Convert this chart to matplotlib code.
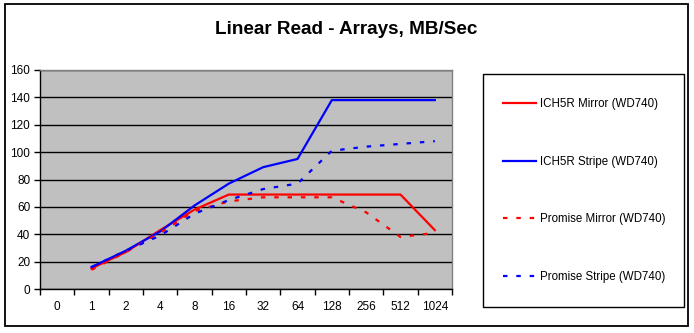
import matplotlib
matplotlib.use("Agg")
import matplotlib.pyplot as plt
from matplotlib.patches import Rectangle
import numpy as np

## data (None = no point at that block size)
categories = ['0', '1', '2', '4', '8', '16', '32', '64', '128', '256', '512', '1024']
ich5r_mirror = [None, 15, 27, 43, 58, 69, 69, 69, 69, 69, 69, 43]
ich5r_stripe = [None, 16, 28, 42, 61, 77, 89, 95, 138, 138, 138, 138]
promise_mirror = [None, 14, 27, 41, 57, 64, 67, 67, 67, 56, 38, 41]
promise_stripe = [None, 16, 28, 39, 55, 65, 73, 77, 101, 104, 106, 108]

series_labels = ['ICH5R Mirror (WD740)', 'ICH5R Stripe (WD740)',
                 'Promise Mirror (WD740)', 'Promise Stripe (WD740)']

plt.rcParams['font.family'] = ['Liberation Sans', 'DejaVu Sans']

W, H = 694, 333
fig = plt.figure(figsize=(W / 100, H / 100), dpi=100)
fig.patch.set_facecolor('white')

# outer chart frame
fig.patches.append(Rectangle((5 / W, 1 - 326 / H), 683 / W, 322 / H, transform=fig.transFigure,
                             fill=False, edgecolor='black', linewidth=1.3))

ax = fig.add_axes([40 / W, 1 - 289 / H, 412 / W, 219 / H])
ax.set_facecolor('#C0C0C0')


def to_arr(vals):
    return np.array([np.nan if v is None else v for v in vals], dtype=float)


x = np.arange(len(categories))
dash = (0, (2, 4))
l1, = ax.plot(x, to_arr(ich5r_mirror), color='#FF0000', lw=1.6)
l2, = ax.plot(x, to_arr(ich5r_stripe), color='#0000FF', lw=1.6)
l3, = ax.plot(x, to_arr(promise_mirror), color='#FF0000', lw=1.6, linestyle=dash)
l4, = ax.plot(x, to_arr(promise_stripe), color='#0000FF', lw=1.6, linestyle=dash)

ax.set_xlim(-0.5, len(categories) - 0.5)
ax.set_ylim(0, 160)
ax.set_yticks(np.arange(0, 161, 20))
ax.set_xticks(x)
ax.set_xticklabels(categories)
ax.set_xticks(np.arange(-0.5, len(categories), 1), minor=True)
ax.tick_params(axis='x', which='major', length=0, pad=9, labelsize=8.5)
ax.tick_params(axis='x', which='minor', length=4, direction='out', width=1)
ax.tick_params(axis='y', length=4, direction='out', width=1, pad=3, labelsize=8.5)
ax.yaxis.grid(True, color='black', linewidth=1)
ax.set_axisbelow(True)

for side in ['left', 'bottom']:
    ax.spines[side].set_color('black')
    ax.spines[side].set_linewidth(1)
for side in ['top', 'right']:
    ax.spines[side].set_color('#808080')
    ax.spines[side].set_linewidth(1)

fig.text(346 / W, 1 - 29 / H, 'Linear Read - Arrays, MB/Sec', ha='center', va='center',
         fontsize=13.6, fontweight='bold')

# legend box
fig.patches.append(Rectangle((483 / W, 1 - 307 / H), 201 / W, 233 / H, transform=fig.transFigure,
                             fill=False, edgecolor='black', linewidth=1))
leg = fig.legend([l1, l2, l3, l4], series_labels, loc='upper left',
                 bbox_to_anchor=(503 / W, 1 - 98 / H), frameon=False, fontsize=8.3,
                 labelspacing=3.95, handlelength=2.9, handletextpad=0.3, borderpad=0,
                 borderaxespad=0)

fig.savefig('out.png', dpi=100)
